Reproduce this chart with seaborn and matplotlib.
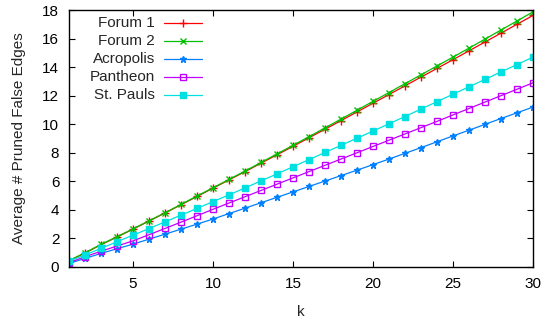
import matplotlib
matplotlib.use("Agg")
import matplotlib.pyplot as plt
import seaborn as sns
import pandas as pd

k = list(range(1, 31))
forum1 = [0.42, 0.98, 1.56, 2.10, 2.65, 3.22, 3.78, 4.36, 4.94, 5.52, 6.10, 6.68, 7.27, 7.86, 8.45,
          9.05, 9.65, 10.25, 10.86, 11.47, 12.08, 12.69, 13.30, 13.91, 14.52, 15.14, 15.76, 16.38, 17.00, 17.62]
forum2 = [0.45, 1.00, 1.58, 2.12, 2.67, 3.24, 3.80, 4.38, 4.97, 5.55, 6.13, 6.72, 7.32, 7.92, 8.52,
          9.13, 9.74, 10.36, 10.98, 11.60, 12.22, 12.84, 13.46, 14.08, 14.70, 15.33, 15.96, 16.60, 17.23, 17.87]
acropolis = [0.25, 0.60, 0.95, 1.28, 1.60, 1.95, 2.30, 2.65, 3.00, 3.36, 3.74, 4.12, 4.50, 4.88, 5.26,
             5.64, 6.02, 6.40, 6.78, 7.17, 7.56, 7.96, 8.36, 8.77, 9.18, 9.58, 9.99, 10.40, 10.80, 11.20]
pantheon = [0.30, 0.72, 1.10, 1.47, 1.83, 2.26, 2.70, 3.14, 3.59, 4.04, 4.48, 4.92, 5.36, 5.80, 6.24,
            6.68, 7.12, 7.56, 8.00, 8.44, 8.88, 9.32, 9.76, 10.20, 10.65, 11.10, 11.55, 12.00, 12.45, 12.90]
stpauls = [0.40, 0.85, 1.30, 1.77, 2.23, 2.69, 3.16, 3.63, 4.10, 4.58, 5.05, 5.54, 6.03, 6.52, 7.02,
           7.52, 8.02, 8.52, 9.02, 9.52, 10.03, 10.54, 11.06, 11.58, 12.10, 12.62, 13.14, 13.66, 14.18, 14.70]

names = ["Forum 1", "Forum 2", "Acropolis", "Pantheon", "St. Pauls"]
series = [forum1, forum2, acropolis, pantheon, stpauls]
colors = ["#ff0000", "#00c000", "#0080ff", "#c000ff", "#00e0e0"]
markers = ["+", "x", "*", "s", "s"]
filled = [True, True, True, False, True]
msizes = [5.5, 4.5, 4.5, 4.3, 4.8]

sns.set_style("ticks")
plt.rcParams['font.family'] = ['Liberation Sans', 'DejaVu Sans']

fig = plt.figure(figsize=(5.41, 3.26), dpi=100)
ax = fig.add_axes([69/541, 1-267/326, (533-69)/541, (267-10)/326])

for name, vals, c, m, f, ms in zip(names, series, colors, markers, filled, msizes):
    df = pd.DataFrame({"k": k, "v": vals})
    kw = dict(marker=m, markersize=ms, color=c, linewidth=0.9, markeredgecolor=c,
              markeredgewidth=1.0, markerfacecolor=(c if f else "none"))
    sns.lineplot(data=df, x="k", y="v", ax=ax, legend=False, **kw)

# gnuplot-style key: text right-aligned, line sample to its right
for i, (name, c, m, f, ms) in enumerate(zip(names, colors, markers, filled, msizes)):
    py = 23.3 + 18 * i
    ya = (267 - py) / 257
    xt = (155 - 69) / 464
    x0 = (164 - 69) / 464
    x1 = (202 - 69) / 464
    xm = (183 - 69) / 464
    ax.text(xt, ya, name, transform=ax.transAxes, ha="right", va="center", fontsize=11)
    ax.plot([x0, x1], [ya, ya], transform=ax.transAxes, color=c, linewidth=0.9)
    ax.plot([xm], [ya], transform=ax.transAxes, color=c, marker=m, markersize=ms,
            markerfacecolor=(c if f else "none"), markeredgecolor=c, markeredgewidth=1.0)

ax.set_xlim(1, 30)
ax.set_ylim(0, 18)
ax.set_xticks([5, 10, 15, 20, 25, 30])
ax.set_yticks(list(range(0, 19, 2)))
ax.tick_params(direction="in", top=True, right=True, labelsize=11, length=4, width=0.8,
               colors="black", pad=7)
ax.set_xlabel("k", fontsize=11, labelpad=10)
ax.set_ylabel("Average # Pruned False Edges", fontsize=11, labelpad=12)
for s in ax.spines.values():
    s.set_linewidth(1.0)
    s.set_color("black")

fig.savefig("out.png", dpi=100)
